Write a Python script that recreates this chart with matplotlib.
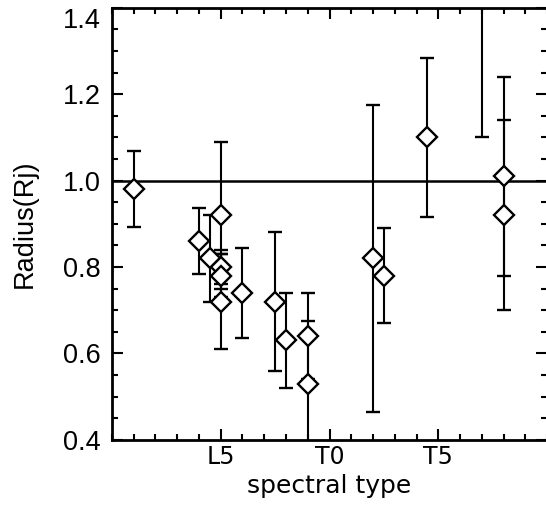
import matplotlib
matplotlib.use("Agg")
import matplotlib.pyplot as plt
from matplotlib.ticker import MultipleLocator, FixedLocator

# spectral type as number: L0 = 0, L5 = 5, T0 = 10, T5 = 15
spt = [1.0, 4.0, 4.5, 5.0, 5.0, 5.0, 5.0, 6.0, 7.5, 8.0, 9.0, 9.0, 12.0, 12.5, 14.5, 17.0, 18.0, 18.0]
radius = [0.98, 0.86, 0.82, 0.92, 0.80, 0.78, 0.72, 0.74, 0.72, 0.63, 0.64, 0.53, 0.82, 0.78, 1.10, 1.50, 1.01, 0.92]
err = [0.088, 0.076, 0.10, 0.17, 0.04, 0.05, 0.11, 0.105, 0.16, 0.11, 0.10, 0.145, 0.355, 0.11, 0.185, 0.40, 0.23, 0.22]

tick_pos = [5, 10, 15]
tick_lab = ["L5", "T0", "T5"]
y_ticks = [0.4, 0.6, 0.8, 1.0, 1.2, 1.4]

fig = plt.figure(figsize=(5.46, 5.23), dpi=100)
ax = fig.add_axes([0.205, 0.159, 0.797, 0.826])

ax.axhline(1.0, color="black", lw=1.8, zorder=1)
ax.errorbar(spt, radius, yerr=err, fmt="D", ms=10, mfc="white", mec="black", mew=1.7,
            ecolor="black", elinewidth=1.5, capsize=5, capthick=1.8, color="black", zorder=2)

ax.set_xlim(0, 20)
ax.set_ylim(0.4, 1.4)
ax.xaxis.set_major_locator(FixedLocator(tick_pos))
ax.set_xticklabels(tick_lab, family="DejaVu Sans", fontsize=17)
ax.xaxis.set_minor_locator(MultipleLocator(1))
ax.set_yticks(y_ticks)
ax.set_yticklabels([f"{v:.1f}" for v in y_ticks], family="Liberation Sans", fontsize=19.5)
ax.yaxis.set_minor_locator(MultipleLocator(0.05))
# top label sits inside the figure, below its tick
ax.get_yticklabels()[-1].set_va("top")

ax.tick_params(which="both", direction="in", top=True, right=True, width=1.5)
ax.tick_params(which="major", length=8)
ax.tick_params(which="minor", length=4)
ax.tick_params(axis="y", pad=8)
ax.tick_params(axis="x", pad=4)
for s in ax.spines.values():
    s.set_linewidth(2)

ax.set_xlabel("spectral type", family="DejaVu Sans", fontsize=18)
ax.set_ylabel("Radius(Rj)", family="Liberation Sans", fontsize=19.5)
ax.yaxis.set_label_coords(-0.17, 0.5)
ax.xaxis.set_label_coords(0.5, -0.078)

fig.savefig("out.png", dpi=100)
